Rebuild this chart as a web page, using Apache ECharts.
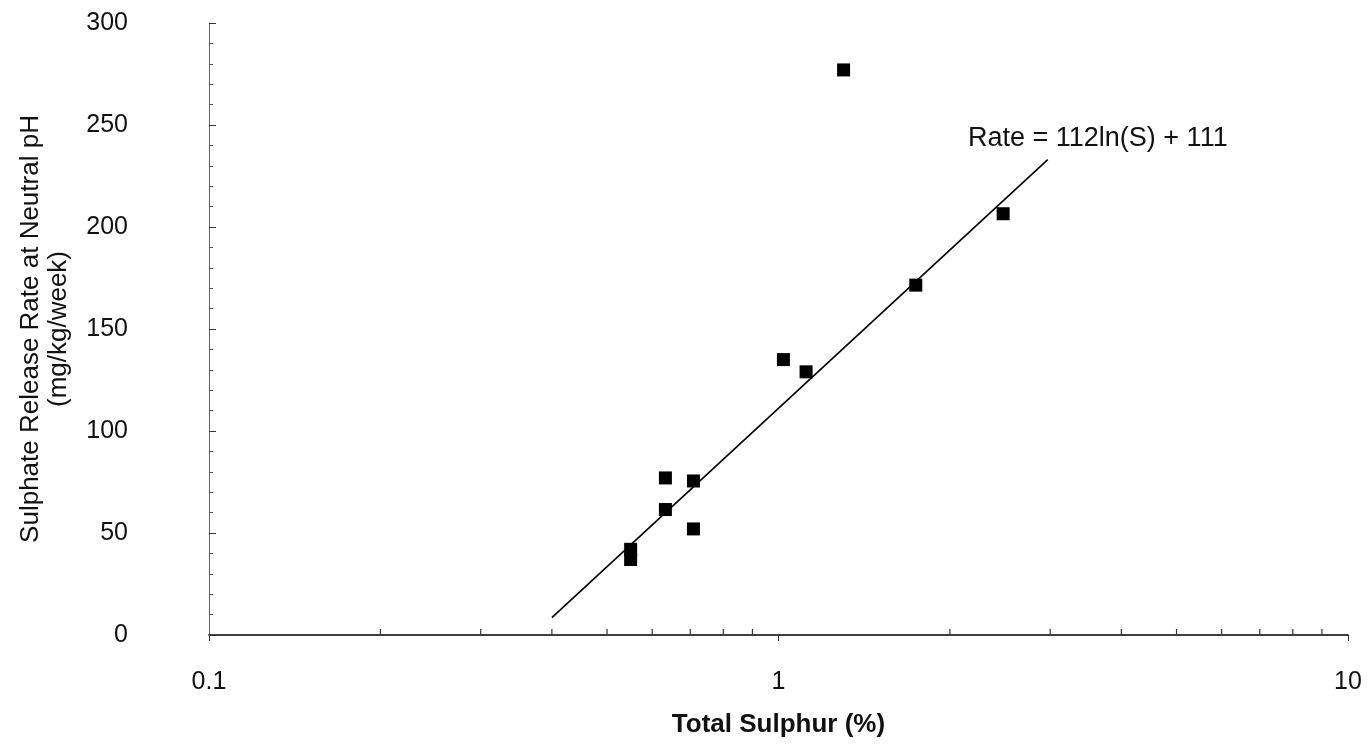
<!DOCTYPE html>
<html>
<head>
<meta charset="utf-8">
<title>Sulphate release vs total sulphur</title>
<script src="https://cdn.jsdelivr.net/npm/echarts@6/dist/echarts.min.js"></script>
<style>
  html, body { margin: 0; padding: 0; background: #fff; }
  #chart { width: 1370px; height: 744px; }
</style>
</head>
<body>
<div id="chart"></div>
<script>
// measured samples: total sulphur (%) and sulphate release rate (mg/kg/week)
const sulphur = [0.55, 0.55, 0.633, 0.633, 0.709, 0.709, 1.02, 1.118, 1.301, 1.742, 2.48];
const rate = [42, 37, 77, 61.5, 75.5, 52, 135, 129, 277, 171.5, 206.5];

// fitted line end points, Rate = 112ln(S) + 111
const fitSulphur = [0.4, 2.97];
const fitRate = [8.5, 233];

// minor ticks on the log axis
const minorTicks = [0.2, 0.3, 0.4, 0.5, 0.6, 0.7, 0.8, 0.9, 2, 3, 4, 5, 6, 7, 8, 9];

const font = 'Liberation Sans, Arial, Helvetica, sans-serif';
const ink = '#111';

const chart = echarts.init(document.getElementById('chart'));

chart.setOption({
  backgroundColor: '#fff',
  animation: false,
  grid: { left: 209, right: 22, top: 23, bottom: 109 },
  xAxis: {
    type: 'log',
    logBase: 10,
    min: 0.1,
    max: 10,
    name: 'Total Sulphur (%)',
    nameLocation: 'middle',
    nameGap: 77,
    nameTextStyle: { fontFamily: font, fontSize: 26, fontWeight: 'bold', color: ink },
    axisLine: { lineStyle: { color: '#000', width: 1.6 } },
    axisTick: { show: true, length: 6, inside: false, lineStyle: { color: '#333' } },
    axisLabel: {
      fontFamily: font, fontSize: 25, color: ink, margin: 35,
      formatter: function (v) { return v < 1 ? v.toFixed(1) : String(Math.round(v)); }
    },
    splitLine: { show: false },
    minorTick: { show: false }
  },
  yAxis: {
    type: 'value',
    min: 0,
    max: 300,
    interval: 50,
    name: 'Sulphate Release Rate at Neutral pH\n(mg/kg/week)',
    nameLocation: 'middle',
    nameGap: 136,
    nameTextStyle: { fontFamily: font, fontSize: 26, color: ink, lineHeight: 28 },
    axisLine: { show: true, lineStyle: { color: '#666', width: 1 } },
    axisTick: { show: true, inside: true, length: 7, lineStyle: { color: '#333' } },
    minorTick: { show: true, splitNumber: 5, length: 4, lineStyle: { color: '#555' } },
    axisLabel: { fontFamily: font, fontSize: 25, color: ink, margin: 81 },
    splitLine: { show: false }
  },
  graphic: [{
    type: 'text',
    left: 968,
    top: 125,
    style: { text: 'Rate = 112ln(S) + 111', font: '27px ' + font, fill: ink }
  }],
  series: [
    {
      name: 'ticks',
      type: 'scatter',
      silent: true,
      data: minorTicks.map(function (s) { return [s, 0]; }),
      symbol: 'rect',
      symbolSize: [1.2, 6],
      symbolOffset: [0, -3],
      itemStyle: { color: '#333', opacity: 1 },
      z: 1
    },
    {
      name: 'Fit',
      type: 'line',
      data: fitSulphur.map(function (s, i) { return [s, fitRate[i]]; }),
      showSymbol: false,
      lineStyle: { color: '#000', width: 1.6 },
      z: 2
    },
    {
      name: 'Samples',
      type: 'scatter',
      data: sulphur.map(function (s, i) { return [s, rate[i]]; }),
      symbol: 'rect',
      symbolSize: 13,
      itemStyle: { color: '#000', opacity: 1 },
      z: 3
    }
  ]
});

window.addEventListener('resize', function () { chart.resize(); });
</script>
</body>
</html>
